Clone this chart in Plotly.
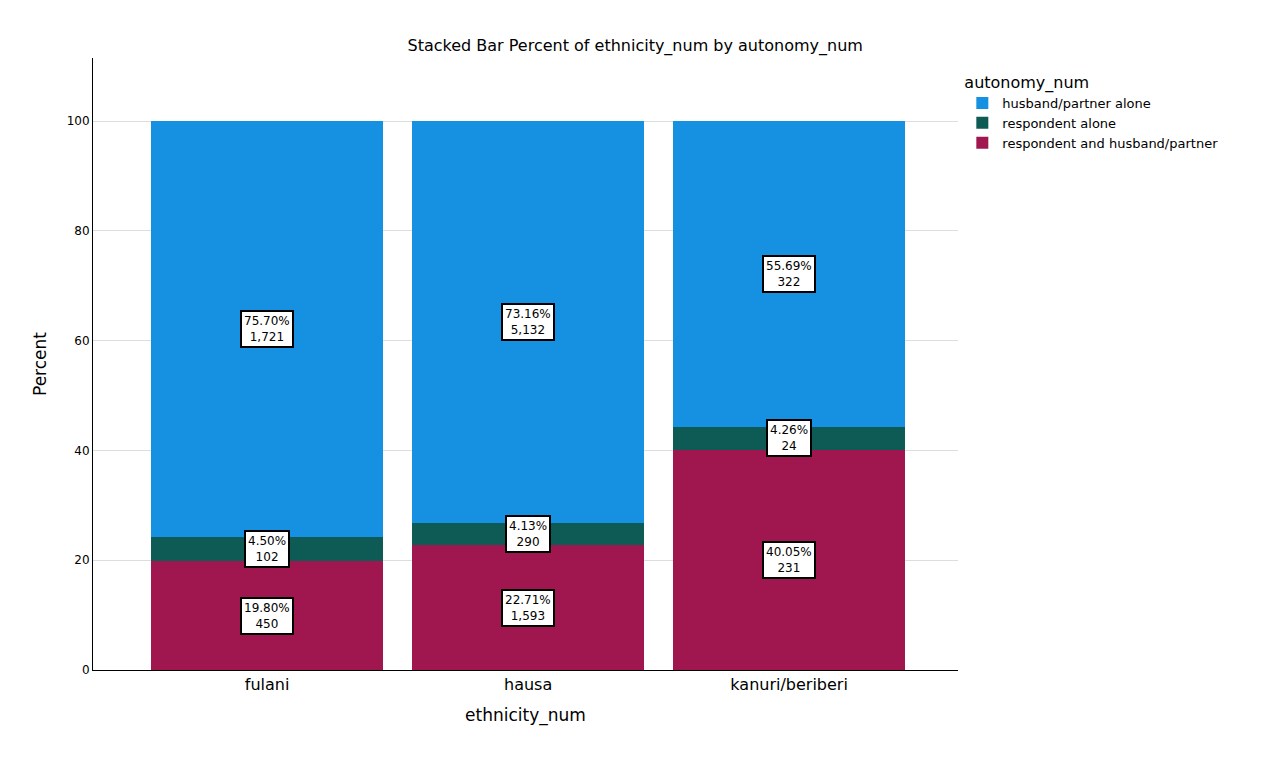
import plotly.graph_objects as go

categories = ["fulani", "hausa", "kanuri/beriberi"]
series_names = ["respondent and husband/partner", "respondent alone", "husband/partner alone"]
percents = {
    "respondent and husband/partner": [19.80, 22.71, 40.05],
    "respondent alone": [4.50, 4.13, 4.26],
    "husband/partner alone": [75.70, 73.16, 55.69],
}
counts = {
    "respondent and husband/partner": ["450", "1,593", "231"],
    "respondent alone": ["102", "290", "24"],
    "husband/partner alone": ["1,721", "5,132", "322"],
}
colors = {
    "respondent and husband/partner": "#A0174F",
    "respondent alone": "#0E5A54",
    "husband/partner alone": "#1690E0",
}

fig = go.Figure()
for s in series_names:
    fig.add_trace(go.Bar(x=categories, y=percents[s], name=s, marker_color=colors[s],
                         marker_line_width=0))

base = [0, 0, 0]
for s in series_names:
    for i, c in enumerate(categories):
        v = percents[s][i]
        fig.add_annotation(x=c, y=base[i] + v / 2, text=f"{v:.2f}%<br>{counts[s][i]}",
                           showarrow=False, bgcolor="white", bordercolor="black", borderwidth=2,
                           font=dict(family="DejaVu Sans", size=12, color="black"), borderpad=2)
        base[i] += v

fig.update_layout(
    barmode="stack", bargap=0.11,
    width=1280, height=764, paper_bgcolor="white", plot_bgcolor="white",
    margin=dict(l=85, r=330, t=50, b=102),
    title=dict(text="Stacked Bar Percent of ethnicity_num by autonomy_num", x=0.49, y=0.958,
               xanchor="center", font=dict(family="DejaVu Sans", size=16, color="black")),
    font=dict(family="DejaVu Sans", color="black"),
    legend=dict(title=dict(text="autonomy_num", font=dict(size=16)), traceorder="reversed",
                x=1.005, y=0.985, xanchor="left", yanchor="top", font=dict(size=13)),
    xaxis=dict(range=[-0.667, 2.647], showline=True, linecolor="black", linewidth=1,
               tickfont=dict(size=16), title=dict(text="ethnicity_num", font=dict(size=17))),
    yaxis=dict(range=[0, 111.5], tickvals=[0, 20, 40, 60, 80, 100], showline=True,
               linecolor="black", gridcolor="#DDDDDD", tickfont=dict(size=12),
               title=dict(text="Percent", font=dict(size=17))),
)
fig.write_html("out.html")
